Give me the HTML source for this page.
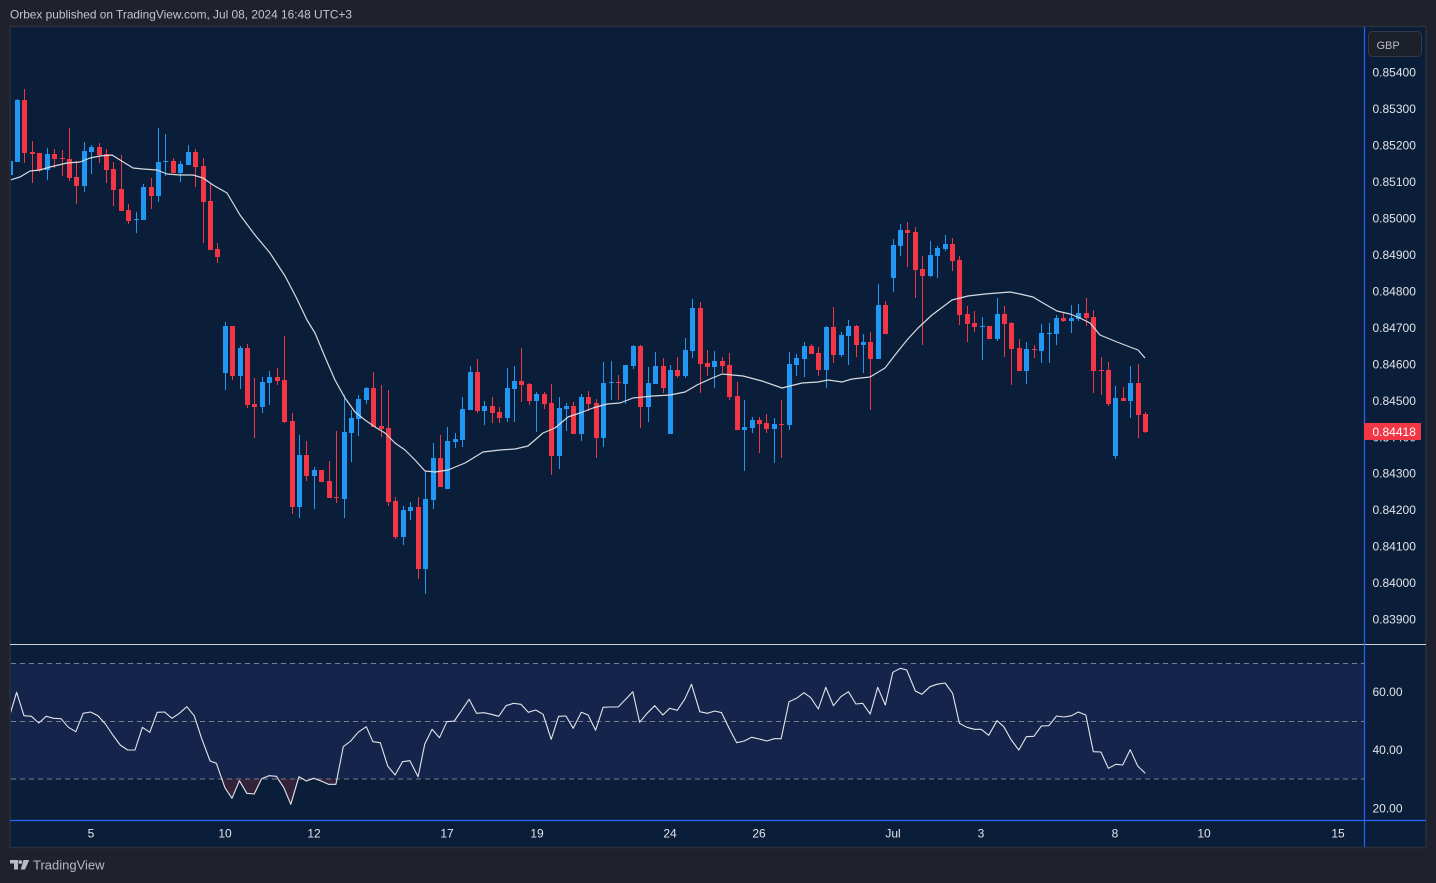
<!DOCTYPE html>
<html><head><meta charset="utf-8">
<style>
html,body{margin:0;padding:0;background:#1f222c;}
svg{display:block;}
text{font-family:"Liberation Sans",sans-serif;}
</style></head>
<body>
<svg width="1436" height="883" viewBox="0 0 1436 883" xmlns="http://www.w3.org/2000/svg">
<defs>
<clipPath id="pp"><rect x="11" y="27" width="1353" height="617"/></clipPath>
<clipPath id="rp"><rect x="11" y="645" width="1353" height="175"/></clipPath>
<clipPath id="low"><rect x="11" y="779" width="1353" height="41"/></clipPath>
</defs>
<rect x="0" y="0" width="1436" height="883" fill="#1f222c"/>
<text x="10" y="18.5" font-size="12" fill="#c3c6ce" textLength="342" lengthAdjust="spacingAndGlyphs">Orbex published on TradingView.com, Jul 08, 2024 16:48 UTC+3</text>
<rect x="10" y="26.5" width="1416" height="821" fill="#0a1e3a" stroke="#2c303b" stroke-width="1.5"/>

<!-- RSI band -->
<rect x="11" y="663.3" width="1353" height="115.7" fill="#15244a"/>
<g stroke="#7a7f8c" stroke-width="1" stroke-dasharray="5 4">
<line x1="11" y1="663.5" x2="1364" y2="663.5"/>
<line x1="11" y1="721.5" x2="1364" y2="721.5"/>
<line x1="11" y1="779" x2="1364" y2="779"/>
</g>

<g clip-path="url(#pp)" shape-rendering="crispEdges">
<path fill="#2196f3" d="M10 158h1v20h-1zM8 161h5v14h-5zM17 99h1v63h-1zM15 100h5v62h-5zM47 148h1v32h-1zM45 154h5v16h-5zM84 142h1v50h-1zM82 151h5v35h-5zM91 145h1v29h-1zM89 147h5v5h-5zM136 212h1v21h-1zM134 219h5v1h-5zM143 184h1v36h-1zM141 187h5v33h-5zM158 128h1v74h-1zM156 162h5v34h-5zM165 134h1v42h-1zM163 161h5v1h-5zM180 161h1v21h-1zM178 164h5v9h-5zM188 145h1v20h-1zM186 152h5v13h-5zM225 322h1v68h-1zM223 326h5v47h-5zM240 346h1v43h-1zM238 348h5v28h-5zM262 377h1v36h-1zM260 382h5v25h-5zM269 371h1v34h-1zM267 377h5v6h-5zM299 435h1v83h-1zM297 455h5v52h-5zM314 467h1v42h-1zM312 470h5v6h-5zM344 395h1v123h-1zM342 432h5v67h-5zM351 410h1v52h-1zM349 418h5v15h-5zM358 395h1v41h-1zM356 399h5v20h-5zM366 387h1v17h-1zM364 388h5v12h-5zM403 506h1v39h-1zM401 510h5v27h-5zM410 502h1v18h-1zM408 507h5v4h-5zM425 471h1v123h-1zM423 499h5v70h-5zM433 443h1v66h-1zM431 458h5v42h-5zM447 427h1v62h-1zM445 441h5v48h-5zM455 433h1v15h-1zM453 439h5v3h-5zM462 397h1v50h-1zM460 409h5v31h-5zM470 366h1v44h-1zM468 372h5v38h-5zM484 401h1v24h-1zM482 406h5v5h-5zM507 368h1v54h-1zM505 388h5v30h-5zM514 366h1v56h-1zM512 381h5v8h-5zM536 392h1v40h-1zM534 394h5v7h-5zM559 397h1v72h-1zM557 408h5v48h-5zM566 403h1v28h-1zM564 406h5v3h-5zM581 394h1v47h-1zM579 397h5v37h-5zM603 362h1v85h-1zM601 383h5v55h-5zM611 361h1v39h-1zM609 382h5v1h-5zM625 365h1v39h-1zM623 365h5v19h-5zM633 345h1v24h-1zM631 346h5v20h-5zM648 367h1v55h-1zM646 383h5v24h-5zM655 352h1v32h-1zM653 366h5v18h-5zM670 365h1v69h-1zM668 370h5v64h-5zM685 338h1v40h-1zM683 350h5v26h-5zM692 299h1v59h-1zM690 308h5v43h-5zM714 351h1v37h-1zM712 361h5v6h-5zM744 400h1v71h-1zM742 427h5v3h-5zM752 417h1v16h-1zM750 420h5v8h-5zM774 418h1v45h-1zM772 424h5v5h-5zM789 352h1v78h-1zM787 364h5v61h-5zM796 354h1v22h-1zM794 358h5v7h-5zM804 342h1v35h-1zM802 346h5v13h-5zM826 326h1v62h-1zM824 327h5v43h-5zM841 332h1v25h-1zM839 335h5v20h-5zM848 320h1v45h-1zM846 326h5v10h-5zM863 334h1v39h-1zM861 342h5v3h-5zM878 284h1v75h-1zM876 305h5v54h-5zM893 239h1v53h-1zM891 245h5v33h-5zM900 224h1v32h-1zM898 230h5v16h-5zM930 241h1v36h-1zM928 255h5v21h-5zM937 246h1v32h-1zM935 248h5v8h-5zM945 235h1v16h-1zM943 244h5v5h-5zM982 317h1v43h-1zM980 326h5v1h-5zM997 298h1v43h-1zM995 314h5v25h-5zM1026 342h1v42h-1zM1024 349h5v22h-5zM1041 324h1v39h-1zM1039 333h5v18h-5zM1049 323h1v40h-1zM1047 333h5v1h-5zM1056 315h1v30h-1zM1054 318h5v16h-5zM1071 305h1v28h-1zM1069 318h5v3h-5zM1078 304h1v17h-1zM1076 313h5v6h-5zM1115 386h1v73h-1zM1113 398h5v58h-5zM1130 366h1v52h-1zM1128 383h5v18h-5z"/>
<path fill="#f23645" d="M24 89h1v74h-1zM22 100h5v53h-5zM32 141h1v42h-1zM30 152h5v2h-5zM39 153h1v19h-1zM37 153h5v17h-5zM54 149h1v19h-1zM52 154h5v5h-5zM62 150h1v26h-1zM60 158h5v1h-5zM69 128h1v53h-1zM67 159h5v19h-5zM76 161h1v43h-1zM74 177h5v9h-5zM99 143h1v20h-1zM97 147h5v8h-5zM106 149h1v34h-1zM104 154h5v16h-5zM113 162h1v44h-1zM111 169h5v21h-5zM121 155h1v56h-1zM119 189h5v22h-5zM128 204h1v20h-1zM126 210h5v11h-5zM151 178h1v31h-1zM149 187h5v9h-5zM173 158h1v15h-1zM171 161h5v12h-5zM195 149h1v38h-1zM193 152h5v15h-5zM203 158h1v85h-1zM201 166h5v36h-5zM210 183h1v67h-1zM208 201h5v49h-5zM217 243h1v20h-1zM215 249h5v8h-5zM232 326h1v54h-1zM230 326h5v50h-5zM247 344h1v64h-1zM245 348h5v57h-5zM254 378h1v60h-1zM252 404h5v3h-5zM277 368h1v17h-1zM275 377h5v4h-5zM284 336h1v87h-1zM282 380h5v42h-5zM292 413h1v101h-1zM290 421h5v86h-5zM306 441h1v40h-1zM304 455h5v21h-5zM321 470h1v12h-1zM319 470h5v12h-5zM329 461h1v37h-1zM327 481h5v17h-5zM336 431h1v72h-1zM334 497h5v1h-5zM373 372h1v55h-1zM371 388h5v39h-5zM381 385h1v52h-1zM379 426h5v3h-5zM388 390h1v116h-1zM386 428h5v74h-5zM395 497h1v42h-1zM393 501h5v36h-5zM418 497h1v82h-1zM416 507h5v62h-5zM440 435h1v52h-1zM438 458h5v29h-5zM477 359h1v54h-1zM475 372h5v39h-5zM492 397h1v26h-1zM490 406h5v7h-5zM499 407h1v16h-1zM497 412h5v6h-5zM521 348h1v54h-1zM519 381h5v4h-5zM529 383h1v22h-1zM527 384h5v17h-5zM544 392h1v17h-1zM542 394h5v10h-5zM551 384h1v91h-1zM549 403h5v53h-5zM573 402h1v32h-1zM571 406h5v28h-5zM588 391h1v20h-1zM586 397h5v7h-5zM596 399h1v59h-1zM594 403h5v35h-5zM618 375h1v25h-1zM616 382h5v1h-5zM640 345h1v83h-1zM638 346h5v61h-5zM663 358h1v35h-1zM661 366h5v22h-5zM677 357h1v21h-1zM675 370h5v6h-5zM700 302h1v91h-1zM698 308h5v56h-5zM707 350h1v26h-1zM705 363h5v4h-5zM722 357h1v16h-1zM720 361h5v5h-5zM729 353h1v47h-1zM727 365h5v32h-5zM737 382h1v48h-1zM735 396h5v34h-5zM759 417h1v36h-1zM757 420h5v4h-5zM766 414h1v19h-1zM764 423h5v6h-5zM781 400h1v58h-1zM779 424h5v1h-5zM811 344h1v10h-1zM809 346h5v8h-5zM818 347h1v29h-1zM816 353h5v17h-5zM833 307h1v56h-1zM831 327h5v28h-5zM856 325h1v32h-1zM854 326h5v19h-5zM870 332h1v78h-1zM868 342h5v17h-5zM885 301h1v33h-1zM883 305h5v29h-5zM907 222h1v45h-1zM905 230h5v3h-5zM915 227h1v71h-1zM913 232h5v38h-5zM922 256h1v89h-1zM920 269h5v7h-5zM952 238h1v33h-1zM950 244h5v17h-5zM959 256h1v69h-1zM957 260h5v55h-5zM967 306h1v36h-1zM965 314h5v10h-5zM974 311h1v21h-1zM972 323h5v4h-5zM989 326h1v13h-1zM987 326h5v13h-5zM1004 306h1v51h-1zM1002 314h5v10h-5zM1011 322h1v63h-1zM1009 323h5v26h-5zM1019 339h1v32h-1zM1017 348h5v23h-5zM1034 345h1v13h-1zM1032 349h5v1h-5zM1063 313h1v9h-1zM1061 318h5v3h-5zM1086 298h1v28h-1zM1084 313h5v5h-5zM1093 310h1v83h-1zM1091 317h5v54h-5zM1101 357h1v38h-1zM1099 370h5v1h-5zM1108 362h1v44h-1zM1106 370h5v34h-5zM1123 387h1v14h-1zM1121 398h5v3h-5zM1138 364h1v74h-1zM1136 383h5v32h-5zM1145 412h1v21h-1zM1143 414h5v18h-5z"/>
</g>
<g clip-path="url(#pp)">
<polyline fill="none" stroke="#d8dae0" stroke-width="1.2" stroke-linejoin="round" points="10,180 20,177 30,171 40,170 50,167 67,163 80,162 90,158 100,156 112,155 120,160 133,168 143,169 157,170 167,174 180,175 193,175 203,178 213,185 227,193 240,215 255,235 270,253 285,276 296,297 307,320 315,333 325,357 335,380 345,398 355,412 365,420 375,427 385,433 395,443 405,450 415,460 425,471 435,472 448,470 465,463 470,460 483,452 500,450 515,449 528,446 543,433 555,428 568,417 580,413 593,408 607,404 620,403 633,398 653,396 670,395 685,392 697,385 710,379 722,374 743,376 762,381 782,388 802,383 818,382 828,380 842,382 852,379 870,377 885,368 895,355 907,340 918,328 932,315 952,300 968,296 985,294 1010,292 1020,294 1033,297 1043,303 1057,311 1070,314 1080,318 1090,323 1100,335 1117,342 1130,347 1138,350 1145,358"/>
</g>

<!-- RSI -->
<g clip-path="url(#low)">
<polygon fill="#f23645" fill-opacity="0.18" points="10.4,779 10.4,713.3 16.6,692.3 24,715.7 31.4,716.3 38.8,723 46.2,716.3 53.6,718.3 61,718.7 68.4,727.3 75.8,731.7 83.2,713.3 90.6,712 98,715.7 105.4,724 112.8,735 120.2,745 127.6,750 135,750 142.4,727.3 149.8,732.3 157.2,712.3 164.6,712 172,718.3 179.4,713.3 186.8,706.7 194.2,715.7 201.6,738.3 210.1,761 216.4,763.3 224.9,787.7 232,798.3 239.4,780.7 246.8,793.3 254.2,794 261.6,778.7 269,775.7 276.4,776.3 283.8,787.7 290.8,804.3 298.9,776.7 306.3,781 313.7,778.3 321.1,781 328.5,784.3 335.9,784.3 343.3,746.7 350.7,741 358.1,732.3 366.3,726.7 372.9,741.7 380.3,742.7 387.7,766 395.1,775 402.5,761.7 409.9,760.7 418.1,776.7 424.7,744.3 430,779"/>
</g>
<g clip-path="url(#rp)">
<polyline fill="none" stroke="#e3e5ea" stroke-width="1.1" stroke-linejoin="round" points="10.4,713.3 16.6,692.3 24,715.7 31.4,716.3 38.8,723 46.2,716.3 53.6,718.3 61,718.7 68.4,727.3 75.8,731.7 83.2,713.3 90.6,712 98,715.7 105.4,724 112.8,735 120.2,745 127.6,750 135,750 142.4,727.3 149.8,732.3 157.2,712.3 164.6,712 172,718.3 179.4,713.3 186.8,706.7 194.2,715.7 201.6,738.3 210.1,761 216.4,763.3 224.9,787.7 232,798.3 239.4,780.7 246.8,793.3 254.2,794 261.6,778.7 269,775.7 276.4,776.3 283.8,787.7 290.8,804.3 298.9,776.7 306.3,781 313.7,778.3 321.1,781 328.5,784.3 335.9,784.3 343.3,746.7 350.7,741 358.1,732.3 366.3,726.7 372.9,741.7 380.3,742.7 387.7,766 395.1,775 402.5,761.7 409.9,760.7 418.1,776.7 424.7,744.3 432.1,729.3 439.5,737.7 446.9,721.7 454.3,721 461.7,710.3 469.1,699.3 476.5,713.3 483.9,712.7 491.3,714.3 498.7,716.3 506.1,705.7 513.5,703.3 520.9,704.3 528.3,712.3 535.7,710 543.1,714.3 551.2,739.3 558.6,716.3 566,716 573.2,728.3 581.3,712.3 588.1,715 595.6,730.3 603.1,707.3 610.6,707 618.2,707 625.7,699.3 632.8,691.7 639.6,722.3 647.1,713.3 654.7,705.7 662.9,715 669.7,708.3 677.2,710.3 684.7,699.3 691.5,684.3 699.8,711.7 707.3,713.3 714.8,711 721.6,712.7 729.1,728.3 736.7,742.7 744.2,741 751.7,737.3 759.2,739 766.8,741 774.3,738.7 781.1,738.7 789,701.7 796.5,698.3 804,692.7 810.8,697.7 818.3,709 825.8,687.3 833.4,705.7 840.9,696.7 848.4,691.7 855.9,704 862.7,703.3 870.2,714 877.7,687.3 885.3,705 892.8,672.3 900.3,668.3 906.7,670 915.4,691 921.8,694.3 930,686.7 936.8,684.3 945.1,683 952.6,693.3 959.4,723.3 966.9,727.3 974.4,729.3 981.2,729.3 988.7,735.3 997,720.7 1003.8,726.7 1011.3,740 1018.8,750 1026.4,736.7 1033.9,736.3 1041.4,726 1048.9,725.7 1056.5,716 1064,717 1071.5,715.7 1078.3,712 1085.8,715 1093.3,751.7 1100.9,752 1108.4,768.3 1115.9,764.3 1122.7,765 1130.2,749.7 1137.7,766 1145.2,773.3"/>
</g>

<!-- separators -->
<line x1="10" y1="644.5" x2="1426" y2="644.5" stroke="#cfd2d8" stroke-width="1"/>
<line x1="10" y1="820.5" x2="1426" y2="820.5" stroke="#2962ff" stroke-width="1.2"/>
<line x1="1364.5" y1="27" x2="1364.5" y2="847" stroke="#2962ff" stroke-width="1.2"/>

<!-- price axis -->
<g font-size="12" fill="#e1e3e8">
<text x="1372.5" y="76.6">0.85400</text>
<text x="1372.5" y="113.1">0.85300</text>
<text x="1372.5" y="149.5">0.85200</text>
<text x="1372.5" y="186">0.85100</text>
<text x="1372.5" y="222.5">0.85000</text>
<text x="1372.5" y="258.9">0.84900</text>
<text x="1372.5" y="295.4">0.84800</text>
<text x="1372.5" y="331.9">0.84700</text>
<text x="1372.5" y="368.3">0.84600</text>
<text x="1372.5" y="404.8">0.84500</text>
<text x="1372.5" y="441.3">0.84400</text>
<text x="1372.5" y="477.7">0.84300</text>
<text x="1372.5" y="514.2">0.84200</text>
<text x="1372.5" y="550.6">0.84100</text>
<text x="1372.5" y="587.1">0.84000</text>
<text x="1372.5" y="623.6">0.83900</text>
<text x="1372.5" y="696">60.00</text>
<text x="1372.5" y="753.8">40.00</text>
<text x="1372.5" y="812.7">20.00</text>
</g>
<rect x="1364" y="423" width="57" height="17" fill="#f23645"/>
<text x="1372.5" y="435.8" font-size="12" fill="#ffffff">0.84418</text>

<rect x="1368.5" y="31.5" width="53" height="25" rx="4" fill="#1c202b" stroke="#343846"/>
<text x="1376.5" y="48.8" font-size="11" fill="#b8bbc4">GBP</text>

<!-- time axis -->
<g font-size="12" fill="#e1e3e8" text-anchor="middle">
<text x="91" y="837.5">5</text>
<text x="225" y="837.5">10</text>
<text x="314" y="837.5">12</text>
<text x="447" y="837.5">17</text>
<text x="537" y="837.5">19</text>
<text x="670" y="837.5">24</text>
<text x="759" y="837.5">26</text>
<text x="893" y="837.5">Jul</text>
<text x="981" y="837.5">3</text>
<text x="1115" y="837.5">8</text>
<text x="1204" y="837.5">10</text>
<text x="1338" y="837.5">15</text>
</g>

<!-- TradingView logo -->
<g fill="#b8bbc4">
<path d="M10 860h8v9.5h-4v-6h-4z"/>
<circle cx="20.3" cy="862" r="1.9"/>
<path d="M23.5 860h5.8l-4.3 9.5h-4.3z"/>
</g>
<text x="33" y="869.5" font-size="13" fill="#b8bbc4">TradingView</text>
</svg>
</body></html>
